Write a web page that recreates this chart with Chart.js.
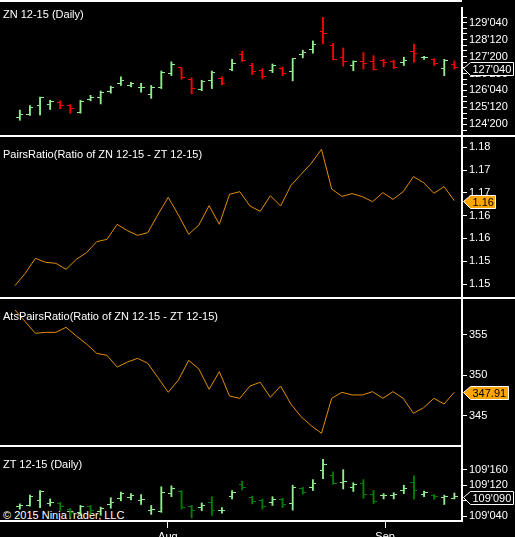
<!DOCTYPE html>
<html><head><meta charset="utf-8">
<script src="https://cdn.jsdelivr.net/npm/chart.js@4.4.1/dist/chart.umd.min.js"></script>
<style>
html,body{margin:0;padding:0;background:#000;width:515px;height:537px;overflow:hidden;position:relative;}
canvas{position:absolute;left:0;display:block;}
.ln{position:absolute;background:#fff;}
.t{position:absolute;left:3px;color:#fff;font-family:"Liberation Sans",Arial,sans-serif;font-size:11px;line-height:13px;white-space:nowrap;}
</style></head><body>
<div class="t" style="top:509px">© 2015 NinjaTrader, LLC</div>
<canvas id="p1" width="515" height="129" style="top:7px"></canvas>
<canvas id="p2" width="515" height="161" style="top:137px"></canvas>
<canvas id="p3" width="515" height="147" style="top:299px"></canvas>
<canvas id="p4" width="515" height="91" style="top:446px"></canvas>
<div class="ln" style="left:0;top:0;width:462px;height:2px"></div>
<div class="ln" style="left:0;top:135px;width:515px;height:2px"></div>
<div class="ln" style="left:0;top:297px;width:515px;height:2px"></div>
<div class="ln" style="left:0;top:445px;width:462px;height:2px"></div>
<div class="ln" style="left:0;top:520px;width:462px;height:2px"></div>
<div class="ln" style="left:461px;top:7px;width:2px;height:515px"></div>
<div class="t" style="top:8px">ZN 12-15 (Daily)</div>
<div class="t" style="top:148px">PairsRatio(Ratio of ZN 12-15 - ZT 12-15)</div>
<div class="t" style="top:310px">AtsPairsRatio(Ratio of ZN 12-15 - ZT 12-15)</div>
<div class="t" style="top:458px">ZT 12-15 (Daily)</div>
<script>
// ---------------- DATA ----------------
const sessions = ['2015-07-13','2015-07-14','2015-07-15','2015-07-16','2015-07-17','2015-07-20','2015-07-21','2015-07-22','2015-07-23','2015-07-24','2015-07-27','2015-07-28','2015-07-29','2015-07-30','2015-07-31',
'2015-08-03','2015-08-04','2015-08-05','2015-08-06','2015-08-07','2015-08-10','2015-08-11','2015-08-12','2015-08-13','2015-08-14','2015-08-17','2015-08-18','2015-08-19','2015-08-20','2015-08-21','2015-08-24','2015-08-25','2015-08-26','2015-08-27','2015-08-28','2015-08-31',
'2015-09-01','2015-09-02','2015-09-03','2015-09-04','2015-09-08','2015-09-09','2015-09-10','2015-09-11'];

const znOpen  = [124.916,125.052,125.460,125.501,125.596,125.460,125.147,125.732,125.800,126.072,126.413,126.345,126.236,125.964,126.236,126.889,127.120,126.590,126.181,126.549,126.644,127.052,127.705,127.229,127.025,126.998,127.093,126.957,127.732,127.950,128.712,128.113,127.596,127.229,127.392,127.392,127.433,127.406,127.365,127.841,127.569,127.501,127.093,127.256];
const znHigh  = [125.256,125.460,125.828,125.692,125.664,125.501,125.692,125.909,126.100,126.317,126.726,126.481,126.440,126.345,126.984,127.392,127.134,126.685,126.576,126.984,126.726,127.501,127.868,127.324,127.093,127.297,127.161,127.542,127.909,128.317,129.365,128.209,128.004,127.433,127.800,127.664,127.501,127.460,127.596,128.181,127.637,127.528,127.501,127.433];
const znLow   = [124.807,125.025,125.038,125.283,125.324,125.120,125.120,125.664,125.528,126.004,126.345,126.277,126.045,125.773,126.209,126.780,126.617,125.977,126.113,126.209,126.372,126.998,127.406,126.821,126.644,126.916,126.780,126.549,127.569,127.773,128.181,127.474,127.202,126.998,127.066,127.025,127.161,127.093,127.229,127.365,127.501,127.229,126.780,127.066];
const znClose = [125.052,125.392,125.800,125.637,125.460,125.324,125.637,125.800,126.045,126.236,126.549,126.453,126.277,126.277,126.916,127.270,126.685,126.209,126.508,126.916,126.453,127.297,127.433,126.957,126.753,127.229,126.889,127.542,127.814,128.141,128.630,127.501,127.406,127.406,127.297,127.052,127.365,127.161,127.433,127.746,127.596,127.297,127.460,127.125];

const ztOpen  = [109.2,109.215,109.25,109.23,109.2275,109.1825,109.1575,109.2075,109.165,109.22,109.265,109.2775,109.2525,109.175,109.165,109.3075,109.325,109.2,109.195,109.2325,109.17,109.2825,109.3825,109.275,109.25,109.2325,109.2575,109.225,109.345,109.3575,109.495,109.45,109.395,109.3575,109.39,109.3,109.29,109.29,109.3325,109.395,109.3,109.295,109.275,109.27];
const ztHigh  = [109.225,109.295,109.3325,109.265,109.2375,109.1875,109.2125,109.2125,109.2,109.275,109.32,109.3075,109.3,109.2125,109.3625,109.37,109.3325,109.2125,109.2325,109.2825,109.195,109.3325,109.4075,109.2875,109.2625,109.2825,109.27,109.375,109.3575,109.42,109.5825,109.4825,109.5,109.395,109.42,109.3325,109.3075,109.315,109.375,109.45,109.3275,109.3025,109.295,109.3125];
const ztLow   = [109.1825,109.2075,109.195,109.2075,109.17,109.12,109.1325,109.14,109.1325,109.19,109.25,109.2575,109.22,109.14,109.1575,109.2825,109.1825,109.1125,109.17,109.1325,109.15,109.265,109.3375,109.225,109.1825,109.2125,109.195,109.175,109.3025,109.3325,109.4275,109.3825,109.345,109.325,109.27,109.2275,109.265,109.265,109.3075,109.2625,109.2825,109.2625,109.22,109.265];
const ztClose = [109.2125,109.2825,109.325,109.24,109.2075,109.1575,109.2,109.17,109.19,109.24,109.3075,109.29,109.2575,109.1825,109.32,109.345,109.195,109.175,109.215,109.175,109.175,109.315,109.3575,109.245,109.2075,109.2575,109.22,109.3575,109.315,109.39,109.545,109.39,109.405,109.3825,109.3,109.245,109.295,109.3,109.35,109.3325,109.315,109.2825,109.2825,109.28125];

const pairsRatio = [1.14964,1.15234,1.15563,1.15476,1.15454,1.15322,1.15542,1.15688,1.15929,1.15980,1.16310,1.16171,1.16068,1.16127,1.16529,1.16902,1.16514,1.16090,1.16295,1.16719,1.16310,1.16968,1.17026,1.16712,1.16595,1.16939,1.16712,1.17158,1.17407,1.17648,1.17955,1.17085,1.16924,1.16983,1.16917,1.16807,1.17004,1.16858,1.17026,1.17356,1.17224,1.16990,1.17136,1.16829];
const atsPairsRatio = [358.10,356.65,355.21,355.33,355.33,355.95,354.88,353.88,352.73,352.48,351.03,351.65,352.11,351.49,349.71,347.90,349.42,351.86,350.79,348.27,350.46,347.44,347.15,348.68,349.14,347.28,348.68,346.45,344.88,343.76,342.82,347.15,347.90,347.57,347.57,347.98,347.15,347.98,347.15,345.29,345.99,347.15,346.45,347.91];

// axis ticks
const znMajorTicks = [124.625,125.375,126.125,126.875,127.625,128.375,129.125];
const znMinorTicks = [124.375,124.875,125.125,125.625,125.875,126.375,126.625,127.125,127.375,127.875,128.125,128.625,128.875,129.375];
const pairsTicks = [1.15,1.155,1.16,1.165,1.17,1.175,1.18];
const atsTicks = [345,350,355];
const ztMajorTicks = [109.125,109.25,109.375,109.5];
const monthTickLabels = ['Aug','Sep'];
const monthTickAt = [14.65,36.15];

// ---------------- STYLE ----------------
const FONT = '"Liberation Sans", Arial, sans-serif';
const XMIN = -1.468, XMAX = 43.754;
const ORANGE = '#FFA500';
const LINE_ORANGE = '#E08E00';
Chart.defaults.font.family = FONT;
Chart.defaults.font.size = 11;
Chart.defaults.color = '#fff';

function fmt32(v){ const i = Math.floor(v + 1e-9); const f = Math.round((v - i) * 320); return i + "'" + String(f).padStart(3,'0'); }
function trunc2(v){ return (Math.floor(v * 100 + 1e-6) / 100).toFixed(2); }

function tickImg(color, side){
  const c = document.createElement('canvas'); c.width = 7; c.height = 1;
  const g = c.getContext('2d'); g.fillStyle = color;
  if (side === 'L') g.fillRect(0,0,3,1); else g.fillRect(4,0,3,1);
  return c;
}

function yScale(min, max, major, minor, labelFn){
  const all = major.concat(minor).sort((a,b)=>a-b);
  return {
    position:'right', min, max,
    afterBuildTicks: s => { s.ticks = all.map(v => ({value:v})); },
    afterFit: s => { s.width = 53; s.paddingTop = 0; s.paddingBottom = 0; },
    grid:{ drawOnChartArea:false, drawTicks:true, tickLength:5, color:'#fff', lineWidth:1, offset:false },
    border:{ display:false },
    ticks:{ color:'#fff', padding:2, autoSkip:false, font:{size:11, family:FONT},
      callback: v => major.some(m => Math.abs(m - v) < 1e-7) ? labelFn(v) : '' }
  };
}

function xScale(show){
  const s = { type:'linear', min:XMIN, max:XMAX, offset:false, display:show, grid:{offset:false} };
  if (show) Object.assign(s, {
    position:'bottom',
    afterBuildTicks: sc => { sc.ticks = monthTickAt.map(v => ({value:v})); },
    afterFit: sc => { sc.height = 16; sc.paddingLeft = 0; sc.paddingRight = 0; },
    grid:{ drawOnChartArea:false, drawTicks:true, tickLength:7, color:'#fff', lineWidth:1, offset:false },
    border:{ display:false },
    ticks:{ color:'#fff', padding:2, autoSkip:false, maxRotation:0, font:{size:11, family:FONT},
      callback: (v, i) => monthTickLabels[i] }
  });
  return s;
}

function marker(value, text, fill, txt){
  return { id:'marker', afterDraw(chart){
    const s = chart.scales.y, ctx = chart.ctx;
    const y = Math.round(s.getPixelForValue(value)) + 0.5;
    ctx.save();
    ctx.font = '11px ' + FONT;
    const tw = ctx.measureText(text).width;
    const tip = s.left + 1.5, x0 = s.left + 8.5, x1 = Math.round(x0 + tw + 3.5) + 0.5;
    ctx.beginPath();
    ctx.moveTo(tip, y); ctx.lineTo(x0, y - 6); ctx.lineTo(x1, y - 6); ctx.lineTo(x1, y + 7); ctx.lineTo(x0, y + 7); ctx.closePath();
    ctx.fillStyle = fill; ctx.fill();
    ctx.strokeStyle = '#fff'; ctx.lineWidth = 1; ctx.stroke();
    ctx.fillStyle = txt; ctx.textBaseline = 'middle'; ctx.textAlign = 'left';
    ctx.fillText(text, x0 + 2, y + 1);
    ctx.restore();
  }};
}

function ohlcChart(id, o, h, l, c, up, dn, yMin, yMax, major, minor, showX, lastText){
  const imgs = { uL: tickImg(up,'L'), uR: tickImg(up,'R'), dL: tickImg(dn,'L'), dR: tickImg(dn,'R') };
  const isUp = i => c[i] >= o[i];
  return new Chart(document.getElementById(id), {
    type:'line',
    data:{ datasets:[
      { type:'bar', data: sessions.map((d,i) => ({x:i, y:[l[i], h[i]]})),
        backgroundColor: ctx => isUp(ctx.dataIndex) ? up : dn,
        barThickness:1.2, borderWidth:0, grouped:false },
      { data: sessions.map((d,i) => ({x:i, y:o[i]})), showLine:false, pointRadius:3,
        pointStyle: ctx => isUp(ctx.dataIndex) ? imgs.uL : imgs.dL },
      { data: sessions.map((d,i) => ({x:i, y:c[i]})), showLine:false, pointRadius:3,
        pointStyle: ctx => isUp(ctx.dataIndex) ? imgs.uR : imgs.dR }
    ]},
    options:{ responsive:false, animation:false, events:[], layout:{padding:0},
      plugins:{ legend:{display:false}, tooltip:{enabled:false} },
      scales:{ x: xScale(showX), y: yScale(yMin, yMax, major, minor, fmt32) } },
    plugins:[ marker(c[c.length-1], lastText, '#000', '#fff') ]
  });
}

function lineChart(id, vals, yMin, yMax, major, labelFn, lastText){
  return new Chart(document.getElementById(id), {
    type:'line',
    data:{ datasets:[{ data: sessions.map((d,i) => ({x:i, y:vals[i]})), borderColor:LINE_ORANGE, borderWidth:1, pointRadius:0, tension:0, fill:false }]},
    options:{ responsive:false, animation:false, events:[], layout:{padding:0},
      plugins:{ legend:{display:false}, tooltip:{enabled:false} },
      scales:{ x: xScale(false), y: yScale(yMin, yMax, major, [], labelFn) } },
    plugins:[ marker(vals[vals.length-1], lastText, ORANGE, '#000') ]
  });
}

ohlcChart('p1', znOpen, znHigh, znLow, znClose, '#90EE90', '#FF0000', 124.331, 129.5963, znMajorTicks, znMinorTicks, false, fmt32(znClose[znClose.length-1]));
lineChart('p2', pairsRatio, 1.14693, 1.18226, pairsTicks, trunc2, trunc2(pairsRatio[pairsRatio.length-1]));
lineChart('p3', atsPairsRatio, 341.245, 359.461, atsTicks, v => String(v), atsPairsRatio[atsPairsRatio.length-1].toFixed(2));
ohlcChart('p4', ztOpen, ztHigh, ztLow, ztClose, '#90EE90', '#008000', 109.0874, 109.650, ztMajorTicks, [], true, fmt32(ztClose[ztClose.length-1]));
</script>
</body></html>
